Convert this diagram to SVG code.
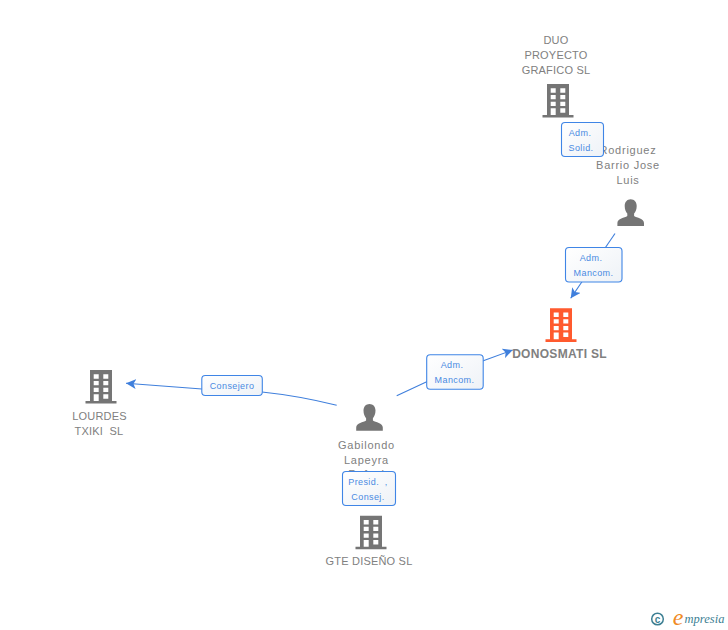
<svg xmlns="http://www.w3.org/2000/svg" xmlns:xlink="http://www.w3.org/1999/xlink" width="728" height="630" viewBox="0 0 728 630">
<style>
text{font-family:"Liberation Sans",Arial,sans-serif;text-anchor:middle}
.n{font-size:11px;fill:#808080}
.p{letter-spacing:.75px}
.u{letter-spacing:.2px}
.b{font-weight:bold;font-size:12px;letter-spacing:.3px}
.l{font-size:9px;letter-spacing:.4px;fill:#4a8ae2}
.box{fill:url(#g);stroke:#3f85e6;stroke-width:1.100}
.c{fill:none;stroke:#3f7fdc;stroke-width:1.100}
.i{fill:#757575}
</style>
<defs>
<linearGradient id="g" x1="0" y1="0" x2="1" y2="1"><stop offset="0" stop-color="#ffffff"/><stop offset="1" stop-color="#eef2f7"/></linearGradient>
<marker id="a" markerWidth="12" markerHeight="10" refX="10" refY="5" orient="auto" markerUnits="userSpaceOnUse"><path d="M0 0L10 5L0 10L2.500 5Z" fill="#3f7fdc"/></marker>
<symbol id="bld" overflow="visible"><path fill-rule="evenodd" d="M-11 0H11V31H15.500V33.600H-15.500V31H-11ZM-7.300 4.300V8.700H-2.300V4.300ZM2.300 4.300V8.700H7.300V4.300ZM-7.300 11V15.300H-2.300V11ZM2.300 11V15.300H7.300V11ZM-7.300 17.700V22H-2.300V17.700ZM2.300 17.700V22H7.300V17.700ZM-7.300 24.300V31H-2.300V24.300ZM2.300 24.300V28.700H7.300V24.300Z"/></symbol>
<symbol id="per" overflow="visible"><path d="M0 0C3.600 0 6 2.800 6 6.600C6 10 4.800 12.600 3.400 14.200V16.600C6 18.400 13.300 19 13.300 23.600V26.700H-13.300V23.600C-13.300 19 -6 18.400 -3.400 16.600V14.200C-4.800 12.600 -6 10 -6 6.600C-6 2.800 -3.600 0 0 0Z"/></symbol>
</defs>
<g id="connectors">
<path class="c" d="M615 233.500L570.700 298.300" marker-end="url(#a)"/>
<path class="c" d="M396.700 395.700L426.700 381.700L483.300 360.700L512.700 350" marker-end="url(#a)"/>
<path class="c" d="M336.700 405.300Q300 396 262 392L202 389L126 383.300" marker-end="url(#a)"/>
</g>
<g id="node-duo">
<use href="#bld" x="558" y="84" class="i"/>
<text class="n u" x="556" y="44">DUO</text><text class="n u" x="556" y="59">PROYECTO</text><text class="n u" x="556" y="74">GRAFICO SL</text>
</g>
<g id="node-rodriguez">
<use href="#per" x="630.700" y="199.300" class="i"/>
<text class="n p" x="628" y="154">Rodriguez</text><text class="n p" x="628" y="169">Barrio Jose</text><text class="n p" x="628" y="184">Luis</text>
</g>
<g id="node-donosmati">
<use href="#bld" x="561" y="308.300" fill="#ff5a2e"/>
<text class="n b" x="559.500" y="358">DONOSMATI SL</text>
</g>
<g id="node-lourdes">
<use href="#bld" x="101" y="370" class="i"/>
<text class="n u" x="99.500" y="420">LOURDES</text><text class="n u" x="99" y="435" xml:space="preserve">TXIKI  SL</text>
</g>
<g id="node-gabilondo">
<use href="#per" x="369.500" y="404" class="i"/>
<text class="n p" x="366.500" y="449">Gabilondo</text><text class="n p" x="366.500" y="464">Lapeyra</text><text class="n p" x="366.500" y="478">Rafael</text>
</g>
<g id="node-gte">
<use href="#bld" x="371" y="515.700" class="i"/>
<text class="n u" x="369" y="565">GTE DISEÑO SL</text>
</g>
<g id="labels">
<g><rect class="box" x="561.500" y="122.500" width="42" height="34" rx="3.500"/><text class="l" x="580" y="136">Adm.</text><text class="l" x="581" y="151">Solid.</text></g>
<g><rect class="box" x="565.500" y="247.500" width="56.500" height="34.500" rx="3.500"/><text class="l" x="591" y="261">Adm.</text><text class="l" x="593.500" y="276">Mancom.</text></g>
<g><rect class="box" x="426.700" y="354.800" width="56.500" height="34.500" rx="3.500"/><text class="l" x="452" y="368">Adm.</text><text class="l" x="454.500" y="383">Mancom.</text></g>
<g><rect class="box" x="342.500" y="471.500" width="53" height="34" rx="3.500"/><text class="l" x="368" y="485" xml:space="preserve">Presid.  ,</text><text class="l" x="368" y="500">Consej.</text></g>
<g><rect class="box" x="201.800" y="375.500" width="60.500" height="20" rx="3.500"/><text class="l" x="232" y="389">Consejero</text></g>
</g>
<g id="logo">
<circle cx="657.500" cy="619" r="5.800" fill="none" stroke="#3d7f93" stroke-width="1.500"/>
<text x="657.500" y="622.500" style="font-size:10px;fill:#3d7f93;font-weight:bold">c</text>
<text x="678" y="625" style="font-size:24px;fill:#f08a24;font-family:'Liberation Serif',serif;font-style:italic">e</text>
<text x="704.500" y="623" style="font-size:12.500px;fill:#3d7f93;font-family:'Liberation Serif',serif;font-style:italic">mpresia</text>
</g>
</svg>
